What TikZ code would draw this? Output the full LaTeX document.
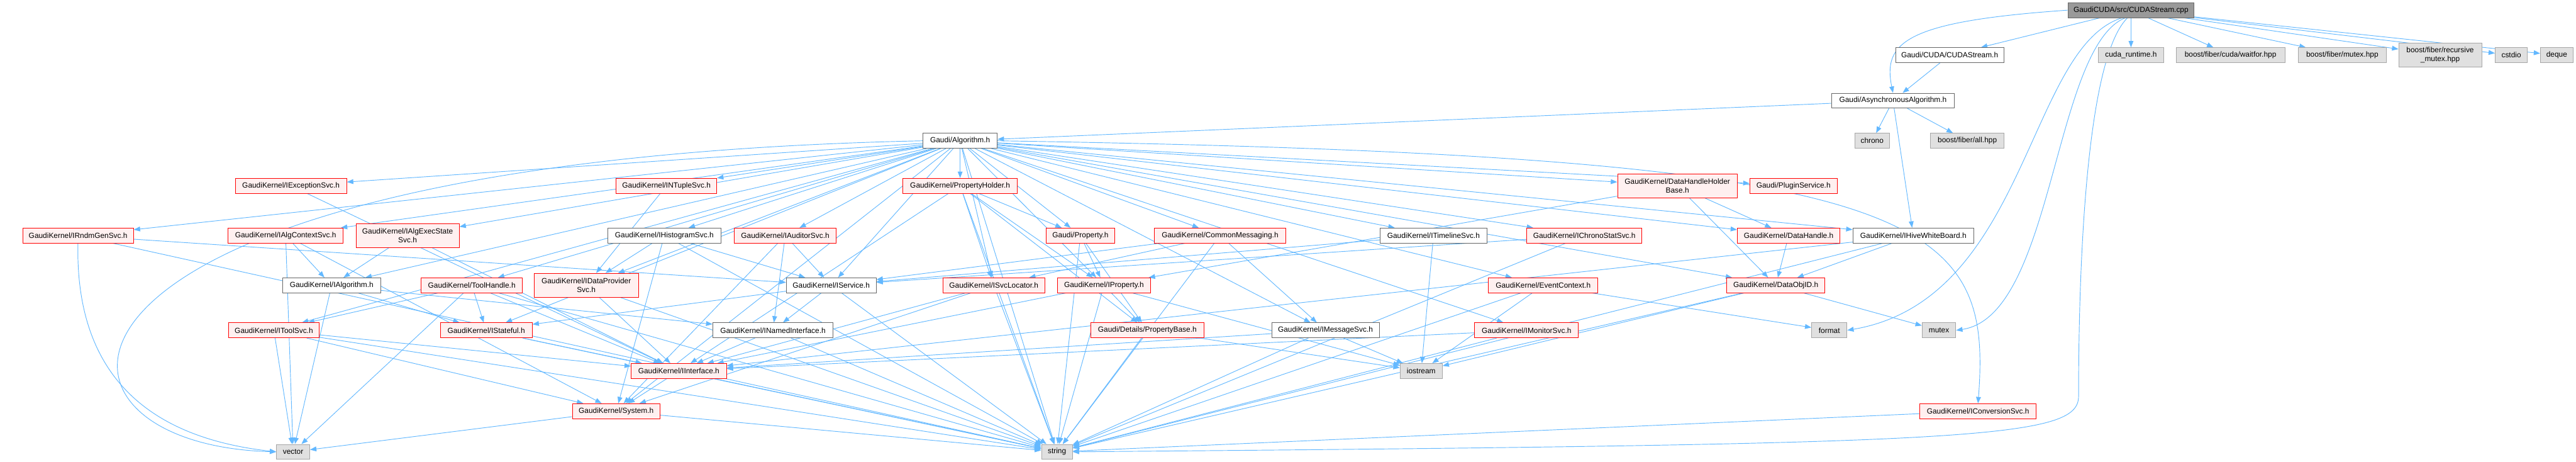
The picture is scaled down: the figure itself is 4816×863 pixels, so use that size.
\documentclass[tikz,border=0pt]{standalone}
\usepackage{fontspec}
\setmainfont{Liberation Sans}
\usepackage{xcolor}
\usepackage{tikz}
\usetikzlibrary{arrows.meta,backgrounds}
\definecolor{inclblue}{HTML}{63B8FF}
\definecolor{redfill}{HTML}{FFF0F0}
\definecolor{sysfill}{HTML}{E0E0E0}

\begin{document}
\begin{tikzpicture}[x=1pt, y=-1pt, every node/.style={rectangle, minimum height=28pt, inner sep=2pt,
    font=\fontsize{14}{17}\selectfont, line width=1pt, align=center},
    hdr/.style={draw=red, fill=redfill},
    plain/.style={draw=black!60, fill=white},
    sys/.style={draw=black!35, fill=sysfill},
    root/.style={draw=black!60, fill=black!40},
    incl/.style={-{Triangle[length=12pt,width=9pt]}, line width=1.1pt, draw=inclblue}]
\useasboundingbox (0,0) rectangle (4816,863);
% top rows
\node[root, minimum width=236pt] (main) at (3984,19) {GaudiCUDA/src/CUDAStream.cpp};
\node[plain, minimum width=202pt] (cudaH) at (3645,103) {Gaudi/CUDA/CUDAStream.h};
\node[sys, minimum width=122pt] (cudart) at (3984,103) {cuda\_runtime.h};
\node[sys, minimum width=203pt] (waitfor) at (4170,103) {boost/fiber/cuda/waitfor.hpp};
\node[sys, minimum width=164pt] (fbmutex) at (4379,103) {boost/fiber/mutex.hpp};
\node[sys, minimum width=155pt, minimum height=45pt] (fbrecmutex) at (4562,103) {boost/fiber/recursive\\\_mutex.hpp};
\node[sys, minimum width=60pt] (cstdio) at (4695,103) {cstdio};
\node[sys, minimum width=61pt] (deque) at (4780,103) {deque};
\node[plain, minimum width=230pt] (async) at (3539,188) {Gaudi/AsynchronousAlgorithm.h};
\node[sys, minimum width=65pt] (chrono) at (3500,263) {chrono};
\node[sys, minimum width=138pt] (fiberall) at (3678,263) {boost/fiber/all.hpp};
\node[plain, minimum width=139pt] (algo) at (1795,263) {Gaudi/Algorithm.h};
% first level below Algorithm.h
\node[hdr, minimum width=208pt] (excsvc) at (544,347) {GaudiKernel/IExceptionSvc.h};
\node[hdr, minimum width=188pt] (ntuple) at (1246,347) {GaudiKernel/INTupleSvc.h};
\node[hdr, minimum width=214pt] (propholder) at (1795,347) {GaudiKernel/PropertyHolder.h};
\node[hdr, minimum width=224pt, minimum height=45pt] (dhhb) at (3136,347) {GaudiKernel/DataHandleHolder\\Base.h};
\node[hdr, minimum width=163pt] (plugin) at (3353,347) {Gaudi/PluginService.h};
\node[hdr, minimum width=207pt] (rndm) at (146,440) {GaudiKernel/IRndmGenSvc.h};
\node[hdr, minimum width=215pt] (algctx) at (534,440) {GaudiKernel/IAlgContextSvc.h};
\node[hdr, minimum width=193pt, minimum height=45pt] (algexec) at (762,440) {GaudiKernel/IAlgExecState\\Svc.h};
\node[plain, minimum width=212pt] (histo) at (1242,440) {GaudiKernel/IHistogramSvc.h};
\node[hdr, minimum width=190pt] (auditor) at (1468,440) {GaudiKernel/IAuditorSvc.h};
\node[hdr, minimum width=129pt] (property) at (2020,440) {Gaudi/Property.h};
\node[hdr, minimum width=245pt] (commsg) at (2281,440) {GaudiKernel/CommonMessaging.h};
\node[plain, minimum width=200pt] (timeline) at (2680,440) {GaudiKernel/ITimelineSvc.h};
\node[hdr, minimum width=215pt] (chronostat) at (2962,440) {GaudiKernel/IChronoStatSvc.h};
\node[hdr, minimum width=192pt] (datahandle) at (3344,440) {GaudiKernel/DataHandle.h};
\node[plain, minimum width=226pt] (hive) at (3577,440) {GaudiKernel/IHiveWhiteBoard.h};
% middle rows
\node[plain, minimum width=184pt] (ialgo) at (620,533) {GaudiKernel/IAlgorithm.h};
\node[hdr, minimum width=189pt] (toolhandle) at (882,533) {GaudiKernel/ToolHandle.h};
\node[hdr, minimum width=195pt, minimum height=45pt] (dataprov) at (1096,533) {GaudiKernel/IDataProvider\\Svc.h};
\node[plain, minimum width=168pt] (iservice) at (1554,533) {GaudiKernel/IService.h};
\node[hdr, minimum width=190pt] (svcloc) at (1858,533) {GaudiKernel/ISvcLocator.h};
\node[hdr, minimum width=174pt] (iproperty) at (2064,533) {GaudiKernel/IProperty.h};
\node[hdr, minimum width=205pt] (evctx) at (2885,533) {GaudiKernel/EventContext.h};
\node[hdr, minimum width=183pt] (dataobjid) at (3320,533) {GaudiKernel/DataObjID.h};
\node[hdr, minimum width=170pt] (toolsvc) at (512,617) {GaudiKernel/IToolSvc.h};
\node[hdr, minimum width=172pt] (stateful) at (909,617) {GaudiKernel/IStateful.h};
\node[plain, minimum width=225pt] (named) at (1445,617) {GaudiKernel/INamedInterface.h};
\node[hdr, minimum width=212pt] (propbase) at (2145,617) {Gaudi/Details/PropertyBase.h};
\node[plain, minimum width=201pt] (msgsvc) at (2478,617) {GaudiKernel/IMessageSvc.h};
\node[hdr, minimum width=194pt] (monitor) at (2854,617) {GaudiKernel/IMonitorSvc.h};
\node[sys, minimum width=66pt] (format) at (3420,617) {format};
\node[sys, minimum width=63pt] (mutex) at (3625,617) {mutex};
\node[hdr, minimum width=178pt] (iinterface) at (1269,693) {GaudiKernel/IInterface.h};
\node[sys, minimum width=79pt] (iostream) at (2657,693) {iostream};
\node[hdr, minimum width=164pt] (system) at (1152,768) {GaudiKernel/System.h};
\node[hdr, minimum width=217pt] (convsvc) at (3698,768) {GaudiKernel/IConversionSvc.h};
\node[sys, minimum width=62pt] (vector) at (548,844) {vector};
\node[sys, minimum width=58pt] (string) at (1976,844) {string};

% include edges
\begin{scope}[on background layer]
\foreach \t in {cudaH,cudart,waitfor,fbmutex,fbrecmutex,cstdio,deque}
  \draw[incl] (main) -- (\t);
\draw[incl] (main.west) .. controls (3560,40) and (3520,80) .. (async.north);
\draw[incl] (main.220) .. controls (3790,90) and (3790,560) .. (format.east);
\draw[incl] (main.232) .. controls (3838,90) and (3840,590) .. (mutex.east);
\draw[incl] (main.245) .. controls (3890,120) and (3886,600) .. (3886,740)
  .. controls (3886,820) and (3700,830) .. (string.east);
\draw[incl] (cudaH) -- (async);
\foreach \t in {algo,chrono,fiberall,hive}
  \draw[incl] (async) -- (\t);
\foreach \t in {excsvc,ntuple,propholder,dhhb,plugin,rndm,algctx,algexec,histo,auditor,property,
    commsg,timeline,chronostat,datahandle,hive,ialgo,toolhandle,dataprov,iservice,svcloc,iproperty,
    evctx,dataobjid,toolsvc,stateful,msgsvc,monitor,system,string}
  \draw[incl] (algo) -- (\t);
\draw[incl] (algo.east) .. controls (3600,290) and (3725,400) .. (convsvc.north);
\draw[incl] (algo.west) .. controls (10,300) and (10,830) .. (vector.west);
\draw[incl] (excsvc) -- (iinterface);
\draw[incl] (ntuple) -- (dataprov);
\foreach \t in {property,iproperty,svcloc,iinterface,propbase,string}
  \draw[incl] (propholder) -- (\t);
\foreach \t in {datahandle,dataobjid,iproperty}
  \draw[incl] (dhhb) -- (\t);
\foreach \t in {iservice,string}
  \draw[incl] (rndm) -- (\t);
\draw[incl] (rndm) .. controls (140,720) and (300,820) .. (vector.west);
\foreach \t in {ialgo,vector,system}
  \draw[incl] (algctx) -- (\t);
\foreach \t in {ialgo,iinterface}
  \draw[incl] (algexec) -- (\t);
\foreach \t in {dataprov,iservice,system,string}
  \draw[incl] (histo) -- (\t);
\foreach \t in {iservice,named,system}
  \draw[incl] (auditor) -- (\t);
\foreach \t in {iproperty,propbase,string}
  \draw[incl] (property) -- (\t);
\foreach \t in {msgsvc,svcloc,iservice,string}
  \draw[incl] (commsg) -- (\t);
\foreach \t in {iservice,iostream}
  \draw[incl] (timeline) -- (\t);
\foreach \t in {iservice,string}
  \draw[incl] (chronostat) -- (\t);
\draw[incl] (datahandle) -- (dataobjid);
\foreach \t in {iinterface,dataobjid,string}
  \draw[incl] (hive) -- (\t);
\foreach \t in {stateful,named,vector}
  \draw[incl] (ialgo) -- (\t);
\foreach \t in {toolsvc,stateful,iinterface,vector,string}
  \draw[incl] (toolhandle) -- (\t);
\foreach \t in {iinterface,string}
  \draw[incl] (dataprov) -- (\t);
\foreach \t in {named,stateful,string}
  \draw[incl] (iservice) -- (\t);
\foreach \t in {iinterface,system,string}
  \draw[incl] (svcloc) -- (\t);
\foreach \t in {propbase,iinterface,iostream,string}
  \draw[incl] (iproperty) -- (\t);
\foreach \t in {format,iostream,string}
  \draw[incl] (evctx) -- (\t);
\foreach \t in {mutex,iostream,string}
  \draw[incl] (dataobjid) -- (\t);
\foreach \t in {iinterface,system,string,vector}
  \draw[incl] (toolsvc) -- (\t);
\foreach \t in {iinterface,string}
  \draw[incl] (stateful) -- (\t);
\foreach \t in {iinterface,string}
  \draw[incl] (named) -- (\t);
\foreach \t in {iostream,string}
  \draw[incl] (propbase) -- (\t);
\foreach \t in {iinterface,iostream,string}
  \draw[incl] (msgsvc) -- (\t);
\foreach \t in {iinterface,string}
  \draw[incl] (monitor) -- (\t);
\foreach \t in {system,string}
  \draw[incl] (iinterface) -- (\t);
\foreach \t in {string,vector}
  \draw[incl] (system) -- (\t);
\draw[incl] (convsvc) -- (string);
\end{scope}
\end{tikzpicture}
\end{document}
